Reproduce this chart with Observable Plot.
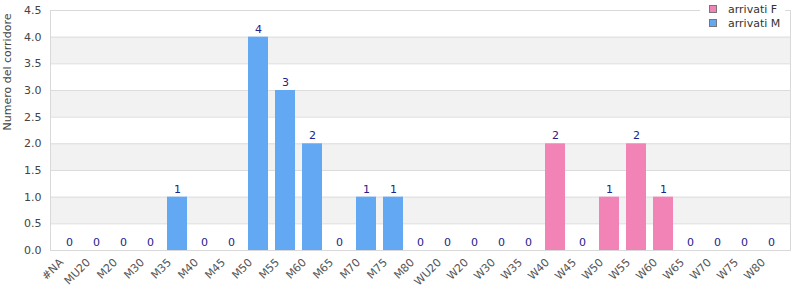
<!DOCTYPE html>
<html>
<head>
<meta charset="utf-8">
<script src="https://cdn.jsdelivr.net/npm/d3@7"></script>
<script src="https://cdn.jsdelivr.net/npm/@observablehq/plot@0.6"></script>
<style>
  body { margin: 0; background: #fff; font-family: "DejaVu Sans", sans-serif; }
  #wrap { position: relative; width: 800px; height: 300px; }
  #legend { position: absolute; left: 700px; top: 1px; width: 85px; height: 28px; background: #fff; font-size: 11px; color: #333; }
  .item { position: absolute; left: 9px; height: 14px; line-height: 14px; }
  .sw { display: inline-block; width: 6px; height: 6px; border: 1px solid #777; vertical-align: middle; margin-right: 11px; position: relative; top: -1px; }
</style>
</head>
<body>
<div id="wrap">
  <div id="chart"></div>
  <div id="legend"></div>
</div>
<script>
const categories = ["#NA","MU20","M20","M30","M35","M40","M45","M50","M55","M60","M65","M70","M75","M80","WU20","W20","W30","W35","W40","W45","W50","W55","W60","W65","W70","W75","W80"];
const arrivatiM = [0,0,0,0,1,0,0,4,3,2,0,1,1,0,0,0,0,0,0,0,0,0,0,0,0,0,0];
const arrivatiF = [0,0,0,0,0,0,0,0,0,0,0,0,0,0,0,0,0,0,2,0,1,2,1,0,0,0,0];
const seriesNames = ["arrivati F", "arrivati M"];
const seriesColors = ["#f283b7", "#62a8f2"];
const yTicks = [0,0.5,1,1.5,2,2.5,3,3.5,4,4.5];
const bands = [[0.5,1],[1.5,2],[2.5,3],[3.5,4]];
const yTitle = "Numero del corridore";

const data = categories.map((c, i) => ({
  cat: c,
  value: arrivatiM[i] + arrivatiF[i],
  series: arrivatiF[i] > 0 ? "arrivati F" : "arrivati M"
}));
const bandData = bands.map(([a, b]) => ({a, b}));

const chart = Plot.plot({
  width: 800,
  height: 300,
  marginLeft: 50,
  marginRight: 10,
  marginTop: 10,
  marginBottom: 50,
  style: { fontFamily: "DejaVu Sans, sans-serif", fontSize: "11px", color: "#444", background: "#fff" },
  x: { domain: categories, padding: 0.27, axis: null },
  y: { domain: [0, 4.5], axis: null },
  color: { domain: seriesNames, range: seriesColors },
  marks: [
    Plot.rectY(bandData, { y1: "a", y2: "b", fill: "#f2f2f2" }),
    Plot.ruleY(yTicks, { stroke: "#dcdcdc" }),
    Plot.barY(data, { x: "cat", y: "value", fill: "series" }),
    Plot.text(data, { x: "cat", y: "value", text: d => String(d.value), dy: -8, fill: "#22228c", fontSize: 11 }),
    Plot.frame({ stroke: "#d9d9d9" }),
    Plot.axisY(yTicks, { tickSize: 0, tickPadding: 9, tickFormat: d3.format(".1f"), label: null, fill: "#444" }),
    Plot.axisX(categories, { tickSize: 0, tickPadding: 10, tickRotate: -45, label: null, fill: "#555", textAnchor: "end", dx: -8 }),
    Plot.text([yTitle], { frameAnchor: "left", dx: -43, rotate: -90, fill: "#444", fontSize: 11 })
  ]
});
document.getElementById("chart").appendChild(chart);

const legend = document.getElementById("legend");
seriesNames.forEach((n, i) => {
  const item = document.createElement("div");
  item.className = "item";
  item.style.top = (2 + i * 14) + "px";
  item.innerHTML = `<span class="sw" style="background:${seriesColors[i]}"></span>${n}`;
  legend.appendChild(item);
});
</script>
</body>
</html>
